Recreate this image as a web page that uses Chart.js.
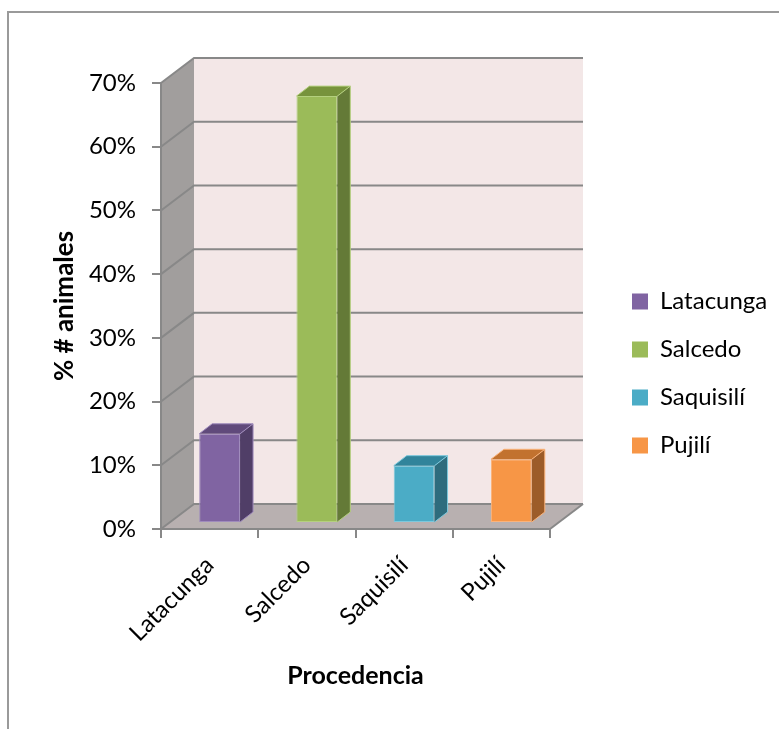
<!DOCTYPE html>
<html>
<head>
<meta charset="utf-8">
<title>Procedencia</title>
<script src="https://cdn.jsdelivr.net/npm/chart.js@4"></script>
<style>
    html, body { margin: 0; padding: 0; background: #fff; overflow: hidden; }
    #frame { position: absolute; left: 7px; top: 11px; width: 900px; height: 900px;
             border-left: 2px solid #9a9a9a; border-top: 2px solid #9a9a9a; }
    #chart { position: absolute; left: 0; top: 0; }
</style>
</head>
<body>
<div id="frame"></div>
<canvas id="chart" width="779" height="729"></canvas>
<script>
// data
const categories = ["Latacunga", "Salcedo", "Saquisilí", "Pujilí"];
const shares = [14, 67, 9, 10];
const yTickValues = [0, 10, 20, 30, 40, 50, 60, 70];

// bar colours: front, side, top, edge
const frontColors = ["#8064A2", "#9BBB59", "#4BACC6", "#F79646"];
const sideColors = ["#503E67", "#647A37", "#2E6C7D", "#9C5C29"];
const topColors = ["#604A7B", "#77933C", "#31849B", "#C2722F"];
const edgeColors = ["#9F8BBC", "#B4D07E", "#7CC8DC", "#FBB37A"];

// 3D look
const WALL = { dx: 33, dy: -25 };
const BAR_SHIFT = { dx: 10, dy: -6 };
const BAR_DEPTH = { dx: 13, dy: -10 };
const GRID = "#888888";

// legend geometry: the legend box sits so its first square starts at x=632
const LEGEND_FONT = 24, LEGEND_BOX = 16, LEGEND_PAD = 24;
const measure = document.createElement("canvas").getContext("2d");
measure.font = LEGEND_FONT + "px Lato";
const legendTextW = Math.max(...categories.map(c => measure.measureText(c).width));
const legendW = LEGEND_BOX + LEGEND_FONT / 2 + legendTextW + LEGEND_PAD + 10;
const legendLeft = 632 - LEGEND_PAD;
const padRight = Math.max(0, 779 - legendLeft - legendW);
const plotRight = 550;

Chart.defaults.font.family = "Lato";

function poly(ctx, pts, fill) {
    ctx.beginPath();
    ctx.moveTo(pts[0][0], pts[0][1]);
    for (let i = 1; i < pts.length; i++) ctx.lineTo(pts[i][0], pts[i][1]);
    ctx.closePath();
    ctx.fillStyle = fill;
    ctx.fill();
}

const box3d = {
    id: "box3d",
    beforeDraw(chart) {
        const { ctx, chartArea: a, scales } = chart;
        const L = a.left, R = a.right, T = a.top, B = a.bottom;
        const dx = WALL.dx, dy = WALL.dy;
        ctx.save();
        // back wall, side wall, floor
        poly(ctx, [[L + dx, T + dy], [R + dx, T + dy], [R + dx, B + dy], [L + dx, B + dy]], "#F3E7E7");
        poly(ctx, [[L, T], [L + dx, T + dy], [L + dx, B + dy], [L, B]], "#A19E9D");
        poly(ctx, [[L, B], [R, B], [R + dx, B + dy], [L + dx, B + dy]], "#B8B0B0");
        // gridlines on side and back walls
        ctx.strokeStyle = GRID;
        ctx.lineWidth = 2;
        yTickValues.forEach(v => {
            const y = scales.y.getPixelForValue(v);
            ctx.beginPath();
            ctx.moveTo(L, y);
            ctx.lineTo(L + dx, y + dy);
            ctx.lineTo(R + dx, y + dy);
            ctx.stroke();
        });
        // floor right edge
        ctx.beginPath();
        ctx.moveTo(R, B);
        ctx.lineTo(R + dx, B + dy);
        ctx.stroke();
        ctx.restore();
    },
    beforeDatasetsDraw(chart) {
        chart.ctx.save();
        chart.ctx.translate(BAR_SHIFT.dx, BAR_SHIFT.dy);
    },
    afterDatasetsDraw(chart) {
        const ctx = chart.ctx;
        const bdx = BAR_DEPTH.dx, bdy = BAR_DEPTH.dy;
        chart.getDatasetMeta(0).data.forEach((bar, i) => {
            const l = bar.x - bar.width / 2, r = bar.x + bar.width / 2;
            poly(ctx, [[r, bar.y], [r + bdx, bar.y + bdy], [r + bdx, bar.base + bdy], [r, bar.base]], sideColors[i]);
            poly(ctx, [[l, bar.y], [l + bdx, bar.y + bdy], [r + bdx, bar.y + bdy], [r, bar.y]], topColors[i]);
            ctx.strokeStyle = edgeColors[i];
            ctx.lineWidth = 1;
            ctx.beginPath();
            ctx.moveTo(l, bar.y);
            ctx.lineTo(l + bdx, bar.y + bdy);
            ctx.lineTo(r + bdx, bar.y + bdy);
            ctx.lineTo(r + bdx, bar.base + bdy);
            ctx.lineTo(r, bar.base);
            ctx.moveTo(r + bdx, bar.y + bdy);
            ctx.lineTo(r, bar.y);
            ctx.stroke();
        });
        ctx.restore();
    }
};

new Chart(document.getElementById("chart"), {
    type: "bar",
    data: {
        labels: categories,
        datasets: [{
            label: "% # animales",
            data: shares,
            backgroundColor: frontColors,
            borderColor: edgeColors,
            borderWidth: 1,
            borderSkipped: false,
            barPercentage: 0.42,
            categoryPercentage: 1,
            clip: false
        }]
    },
    options: {
        responsive: false,
        devicePixelRatio: 1,
        animation: false,
        layout: { padding: { left: 20, top: 20, right: padRight, bottom: 2 } },
        plugins: {
            tooltip: { enabled: false },
            legend: {
                position: "right",
                maxWidth: 260,
                labels: {
                    boxWidth: LEGEND_BOX,
                    boxHeight: LEGEND_BOX,
                    padding: LEGEND_PAD,
                    color: "#000",
                    font: { size: LEGEND_FONT },
                    generateLabels: chart => chart.data.labels.map((text, i) => ({
                        text,
                        fillStyle: frontColors[i],
                        strokeStyle: frontColors[i],
                        lineWidth: 0,
                        hidden: false,
                        index: i
                    }))
                }
            }
        },
        scales: {
            x: {
                grid: { offset: true, drawOnChartArea: false, tickLength: 9, color: GRID, lineWidth: 2 },
                border: { display: true, color: GRID, width: 2 },
                ticks: { color: "#000", font: { size: 24 }, minRotation: 45, maxRotation: 45, autoSkip: false, padding: 13 },
                title: { display: true, text: "Procedencia", color: "#000", font: { size: 25, weight: "bold" }, padding: { top: 4, bottom: 36 } },
                afterFit: s => { s.height = 198; }
            },
            y: {
                min: 0,
                max: 70,
                afterBuildTicks: s => { s.ticks = yTickValues.map(v => ({ value: v })); },
                grid: { drawOnChartArea: false, tickLength: 9, color: GRID, lineWidth: 2 },
                border: { display: true, color: GRID, width: 2 },
                ticks: { color: "#000", font: { size: 24 }, padding: 16, callback: v => v + "%" },
                title: { display: true, text: "% # animales", color: "#000", font: { size: 26, weight: "bold" }, padding: { top: 29, bottom: 0 } },
                afterFit: s => { s.width = 141; }
            },
            topGap: {
                type: "category",
                position: "top",
                grid: { display: false },
                ticks: { display: false },
                border: { display: false },
                afterFit: s => { s.height = 63; }
            },
            rightGap: {
                type: "linear",
                position: "right",
                grid: { display: false },
                ticks: { display: false },
                border: { display: false },
                afterFit: s => { s.width = legendLeft - plotRight; }
            }
        }
    },
    plugins: [box3d]
});
</script>
</body>
</html>
